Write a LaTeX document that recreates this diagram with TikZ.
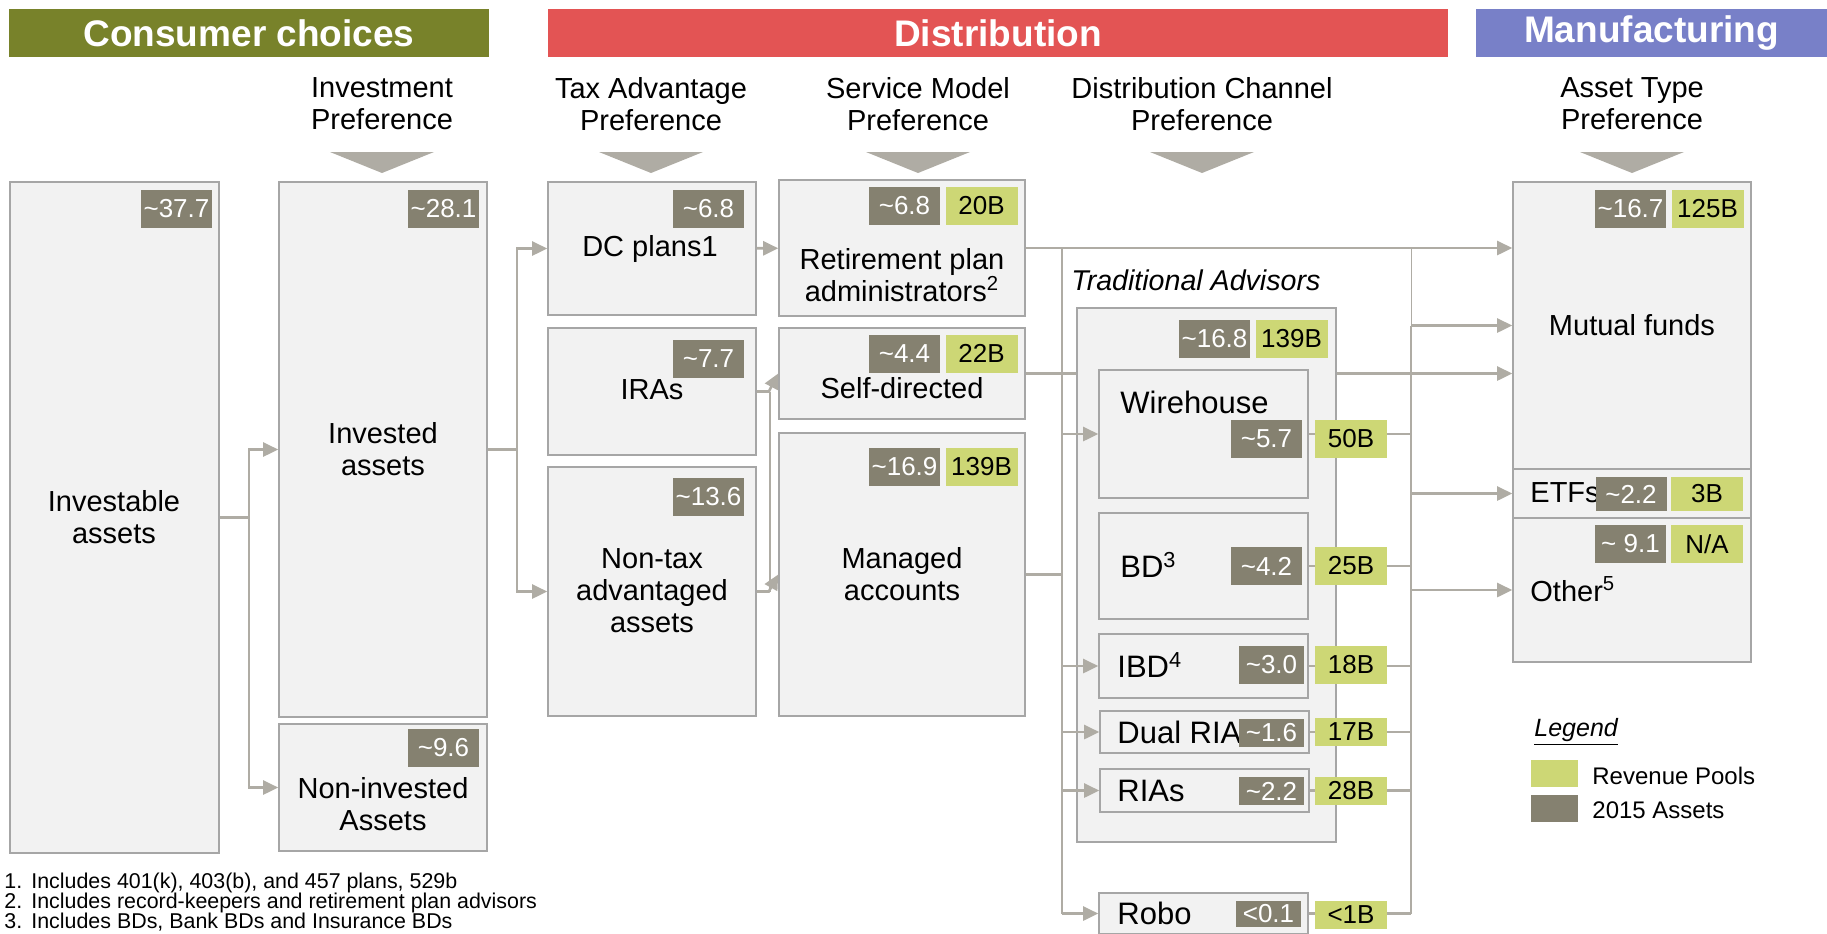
\documentclass[tikz,border=0pt]{standalone}
\usepackage{fontspec}
\setmainfont{Liberation Sans}
\usetikzlibrary{arrows.meta,fit,calc}

\definecolor{olivebar}{HTML}{78822A}
\definecolor{redbar}{HTML}{E35454}
\definecolor{bluebar}{HTML}{7880C8}
\definecolor{boxfill}{HTML}{F2F2F2}
\definecolor{boxline}{HTML}{A6A6A6}
\definecolor{assetgray}{HTML}{858170}
\definecolor{poolgreen}{HTML}{CDD775}
\definecolor{linkgray}{HTML}{AFACA4}

\newcommand\apx{\textasciitilde}

\begin{document}
\begin{tikzpicture}[x=0.5pt,y=-0.5pt,
   bar/.style={inner sep=0pt,minimum height=24pt,text=white,font=\bfseries\fontsize{18.5}{20}\selectfont},
   head/.style={align=center,inner sep=0pt,font=\fontsize{14.5}{16}\selectfont},
   box/.style={draw=boxline,fill=boxfill,line width=0.8pt,inner sep=0pt},
   lbl/.style={align=center,inner sep=0pt,font=\fontsize{14.5}{16}\selectfont},
   chan/.style={anchor=west,inner sep=0pt,font=\fontsize{15.5}{17}\selectfont},
   asset/.style={fill=assetgray,text=white,inner sep=0pt,minimum width=35.5pt,minimum height=19pt,font=\fontsize{13}{13}\selectfont},
   pool/.style={asset,fill=poolgreen,text=black,minimum width=36pt},
   small/.style={minimum width=32.5pt,minimum height=14pt},
   link/.style={draw=linkgray,line width=1.3pt},
   thinlink/.style={draw=linkgray,line width=0.5pt},
   arr/.style={link,-{Triangle[length=7.5pt,width=7pt]}},
   note/.style={anchor=west,inner sep=0pt,font=\fontsize{10.7}{11}\selectfont}]
\useasboundingbox (0,0) rectangle (1827,933);
\clip (0,0) rectangle (1827,933);

% section bars and column headings
\node[bar,fill=olivebar,minimum width=240pt] (consumer) at (249,33) {Consumer choices};
\node[bar,fill=redbar,minimum width=450pt] (distrib) at (998,33) {Distribution};
\node[bar,fill=bluebar,minimum width=175.5pt] (manuf) at (1651.5,33) {Manufacturing};

\node[head] (hinv) at (382,104) {Investment\\Preference};
\node[head] (htax) at (651,104) {Tax Advantage\\Preference};
\node[head] (hserv) at (918,104) {Service Model\\Preference};
\node[head] (hchan) at (1202,104) {Distribution Channel\\Preference};
\node[head] (htype) at (1632,104) {Asset Type\\Preference};
\foreach \cx in {382,651,918,1202,1632}
   \fill[linkgray] (\cx-52,152) -- (\cx+52,152) -- (\cx,173) -- cycle;

% consumer choices
\node[box,fit={(10,182) (219,853)}] (investable) {};
\node[box,fit={(279,182) (487,717)}] (invested) {};
\node[box,fit={(279,724) (487,851)}] (noninv) {};
\node[lbl] (investablelbl) at (114,517) {Investable\\assets};
\node[lbl] (investedlbl) at (383,449) {Invested\\assets};
\node[lbl] (noninvlbl) at (383,804) {Non-invested\\Assets};

% tax advantage
\node[box,fit={(548,182) (756,315)}] (dcplans) {};
\node[box,fit={(548,328) (756,455)}] (iras) {};
\node[box,fit={(548,467) (756,716)}] (nontax) {};
\node[lbl] (dcplanslbl) at (650,249) {DC plans1};
\node[lbl] (iraslbl) at (652,390) {IRAs};
\node[lbl] (nontaxlbl) at (652,591) {Non-tax\\advantaged\\assets};

% service model
\node[box,fit={(779,180) (1025,316)}] (retire) {};
\node[box,fit={(779,328) (1025,419)}] (selfdir) {};
\node[box,fit={(779,433) (1025,716)}] (managed) {};
\node[lbl] (retirelbl) at (902,275) {Retirement plan\\administrators\textsuperscript{2}};
\node[lbl] (selfdirlbl) at (902,388) {Self-directed};
\node[lbl] (managedlbl) at (902,574) {Managed\\accounts};

% asset type
\node[box,fit={(1513,182) (1751,469)}] (mutual) {};
\node[box,fit={(1513,469) (1751,518)}] (etfs) {};
\node[box,fit={(1513,518) (1751,662)}] (other) {};
\node[lbl] (mutuallbl) at (1632,325) {Mutual funds};
\node[lbl,anchor=west] (etfslbl) at (1530,493) {ETFs};
\node[lbl,anchor=west] (otherlbl) at (1530,589) {Other\textsuperscript{5}};

\coordinate (b1) at (249,0);
\coordinate (b2) at (517,0);
\coordinate (lb) at (1062,0);
\coordinate (rb) at (1411,0);

\draw[arr] (investable.east) -- (b1 |- investable.east) |- (invested.west);
\draw[arr] (b1 |- investable.east) |- (noninv.west);
\draw[arr] (invested.east) -- (b2 |- invested.east) |- (dcplans.west);
\draw[arr] (b2 |- invested.east) |- (nontax.west);
\draw[arr] (dcplans) -- (retire);
\draw[link] ($(iras.east)+(13,0)$) -- ($(nontax.east)+(13,0)$);
\draw[arr] (iras.east) -- ++(12,0) -- (selfdir.west);
\draw[arr] (nontax.east) -- ++(12,0) -- (managed.west);
\draw[arr] (retire.east) -- (mutual.west |- retire.east);
\draw[arr] (selfdir.east) -- (mutual.west |- selfdir.east);
\draw[link] (managed.east) -- (lb |- managed.east);

% distribution channels
\node[box,fit={(1077,308) (1336,842)}] (tradadv) {};
\node[anchor=west,inner sep=0pt,font=\itshape\fontsize{14.3}{15}\selectfont] (tradadvlbl) at (1071,280) {Traditional Advisors};
\node[box,fit={(1099,370) (1308,498)}] (wire) {};
\node[box,fit={(1099,513) (1308,619)}] (bd) {};
\node[box,fit={(1099,634) (1308,698)}] (ibd) {};
\node[box,fit={(1100,711) (1309,753)}] (dualria) {};
\node[box,fit={(1100,769) (1309,812)}] (rias) {};
\node[box,fit={(1099,893) (1308,934)}] (robo) {};
\node[chan] (wirelbl) at (1120,402) {Wirehouse};
\node[chan] (bdlbl) at (1120,565) {BD\textsuperscript{3}};
\node[chan] (ibdlbl) at (1117,665) {IBD\textsuperscript{4}};
\node[chan] (dualrialbl) at (1117,732) {Dual RIA};
\node[chan] (riaslbl) at (1117,791) {RIAs};
\node[chan] (robolbl) at (1117,913) {Robo};

\draw[link] (lb |- retire.east) -- (lb |- robo.west);
\foreach \n in {wire,ibd,dualria,rias,robo}
   \draw[arr] (lb |- \n.west) -- (\n.west);
\foreach \n in {wire,bd,ibd,dualria,rias,robo}
   \draw[link] (\n.east) -- (rb |- \n.east);
\draw[thinlink] (rb |- retire.east) -- (rb |- mutual.west);
\draw[link] (rb |- mutual.west) -- (rb |- robo.east);
\foreach \n in {mutual,etfs,other}
   \draw[arr] (rb |- \n.west) -- (\n.west);

% 2015 assets and revenue pools
\node[asset] (a1) at (176.5,209) {\apx37.7};
\node[asset] (a2) at (443.5,209) {\apx28.1};
\node[asset] (a3) at (443.5,747.5) {\apx9.6};
\node[asset] (a4) at (708.5,208.5) {\apx6.8};
\node[asset] (a5) at (708.5,359) {\apx7.7};
\node[asset] (a6) at (708.5,496.5) {\apx13.6};
\node[asset] (a7) at (904.5,205.5) {\apx6.8};
\node[pool] (p7) at (981.5,205.5) {20B};
\node[asset] (a8) at (904.5,353.5) {\apx4.4};
\node[pool] (p8) at (981.5,353.5) {22B};
\node[asset] (a9) at (904.5,467) {\apx16.9};
\node[pool] (p9) at (981.5,467) {139B};
\node[asset] (a10) at (1214.5,339) {\apx16.8};
\node[pool] (p10) at (1291.5,339) {139B};
\node[asset] (a11) at (1266.5,438.5) {\apx5.7};
\node[pool] (p11) at (1351,438.5) {50B};
\node[asset] (a12) at (1266.5,566) {\apx4.2};
\node[pool] (p12) at (1351,566) {25B};
\node[asset,minimum width=32.5pt] (a13) at (1271.5,665) {\apx3.0};
\node[pool] (p13) at (1351,665) {18B};
\node[asset,small] (a14) at (1271.5,733) {\apx1.6};
\node[pool,minimum height=14pt] (p14) at (1351,732) {17B};
\node[asset,small] (a15) at (1271.5,791) {\apx2.2};
\node[pool,minimum height=14pt] (p15) at (1351,791) {28B};
\node[asset,small,minimum height=13pt] (a16) at (1268.5,914) {<0.1};
\node[pool,minimum height=14pt] (p16) at (1351,915) {<1B};
\node[asset] (a17) at (1630.5,209) {\apx16.7};
\node[pool] (p17) at (1707.5,209) {125B};
\node[asset,minimum height=17pt] (a18) at (1631,494) {\apx2.2};
\node[pool,minimum height=17pt] (p18) at (1707,494) {3B};
\node[asset] (a19) at (1630.5,544) {\apx{} 9.1};
\node[pool] (p19) at (1707,544) {N/A};

% legend
\node[anchor=west,inner sep=0pt,font=\itshape\fontsize{12.5}{14}\selectfont] (legend) at (1534,732) {\underline{Legend}};
\node[pool,minimum width=23.5pt,minimum height=13.5pt] (keypool) at (1554.5,773.5) {};
\node[asset,minimum width=23.5pt,minimum height=13.5pt] (keyasset) at (1554.5,808.5) {};
\node[anchor=west,inner sep=0pt,font=\fontsize{12}{14}\selectfont] (keypoollbl) at (1592,776) {Revenue Pools};
\node[anchor=west,inner sep=0pt,font=\fontsize{12}{14}\selectfont] (keyassetlbl) at (1592,810) {2015 Assets};

% footnotes
\node[note] (fn1) at (4,883) {\makebox[13.5pt][l]{1.}Includes 401(k), 403(b), and 457 plans, 529b};
\node[note] (fn2) at (4,903) {\makebox[13.5pt][l]{2.}Includes record-keepers and retirement plan advisors};
\node[note] (fn3) at (4,922) {\makebox[13.5pt][l]{3.}Includes BDs, Bank BDs and Insurance BDs};
\end{tikzpicture}
\end{document}
